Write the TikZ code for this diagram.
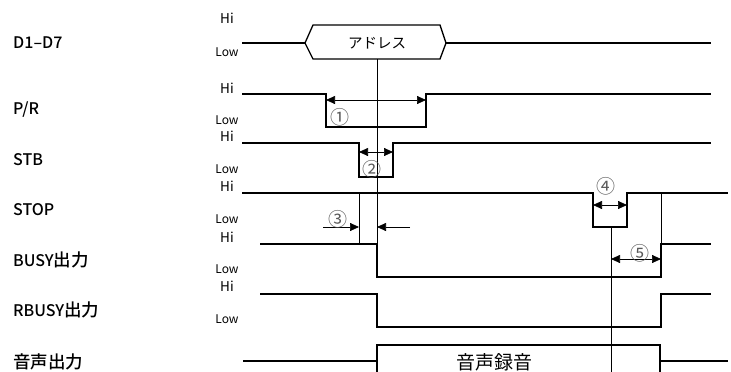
\documentclass[tikz,border=0pt]{standalone}
\usepackage{fontspec}
\setmainfont{Noto Sans CJK JP}
\newfontfamily\labfont{Noto Sans CJK JP Medium}
\usetikzlibrary{arrows.meta}
\newcommand{\jp}[1]{{\fontsize{17.5}{19}\selectfont #1}}
\begin{document}
\begin{tikzpicture}[x=1pt,y=-1pt,
  sig/.style={line width=2.2pt,line join=miter},
  dline/.style={line width=1.8pt},
  thinv/.style={line width=0.7pt},
  boxl/.style={line width=1.3pt},
  dim/.style={line width=0.7pt,-{Triangle[length=9pt,width=8pt]}},
  dimb/.style={line width=0.7pt,{Triangle[length=9pt,width=8pt]}-{Triangle[length=9pt,width=8pt]}},
  lab/.style={anchor=west,inner sep=0pt,font=\labfont\fontsize{16}{18}\selectfont},
  hi/.style={inner sep=0pt,font=\fontsize{13.5}{15}\selectfont},
  lo/.style={inner sep=0pt,font=\fontsize{12}{13}\selectfont},
  num/.style={inner sep=0pt,text=black!65,font=\fontsize{19}{20}\selectfont}]
\useasboundingbox (0,0) rectangle (731,372);
% signal labels
\node[lab] (lD) at (13,43) {D1–D7};
\node[lab] (lP) at (13,110) {P/R};
\node[lab] (lS) at (13,160) {STB};
\node[lab] (lT) at (13,210) {STOP};
\node[lab] (lB) at (13,260) {BUSY\jp{出力}};
\node[lab] (lR) at (13,310) {RBUSY\jp{出力}};
\node[lab] (lA) at (13,362) {\jp{音声出力}};
% Hi / Low
\node[hi] (h1) at (227,18) {Hi};   \node[lo] (o1) at (227,52) {Low};
\node[hi] (h2) at (227,88) {Hi};   \node[lo] (o2) at (227,120) {Low};
\node[hi] (h3) at (227,136) {Hi};  \node[lo] (o3) at (227,169) {Low};
\node[hi] (h4) at (227,186) {Hi};  \node[lo] (o4) at (227,219) {Low};
\node[hi] (h5) at (227,237) {Hi};  \node[lo] (o5) at (227,269) {Low};
\node[hi] (h6) at (227,286) {Hi};  \node[lo] (o6) at (227,319) {Low};
% D1-D7 bus
\coordinate (dA) at (242,43);
\coordinate (dL) at (305,43);
\coordinate (dR) at (446,43);
\coordinate (dE) at (711,43);
\draw[dline] (dA) -- (dL);
\draw[dline] (dR) -- (dE);
\draw[boxl] (dL) -- (313,25) -- (440,25) -- (dR) -- (440,59) -- (313,59) -- cycle;
\node[inner sep=0pt,font=\fontsize{14.5}{16}\selectfont] (addr) at (377,43) {アドレス};
% P/R
\draw[sig] (242,94) -- (326,94) -- (326,127) -- (426,127) -- (426,94) -- (711,94);
% STB
\draw[sig] (242,143) -- (359,143) -- (359,177) -- (393,177) -- (393,143) -- (711,143);
% STOP
\draw[sig] (242,193) -- (593,193) -- (593,227) -- (627,227) -- (627,193) -- (728,193);
% BUSY
\draw[sig] (260,244) -- (377,244) -- (377,277) -- (661,277) -- (661,244) -- (711,244);
% RBUSY
\draw[sig] (260,294) -- (377,294) -- (377,327) -- (661,327) -- (661,294) -- (711,294);
% audio out
\draw[boxl] (243,361) -- (377,361);
\draw[boxl] (377,372) -- (377,345) -- (660,345) -- (660,372);
\draw[boxl] (660,361) -- (728,361);
\node[inner sep=0pt,font=\fontsize{19}{21}\selectfont] (rec) at (494,362) {音声録音};
% thin guide lines
\coordinate (g1t) at (377,59);
\coordinate (g1b) at (377,244);
\draw[thinv] (g1t) -- (g1b);
\coordinate (g2t) at (359,193);
\coordinate (g2b) at (359,244);
\draw[thinv] (g2t) -- (g2b);
\coordinate (g3t) at (611,227);
\coordinate (g3b) at (611,372);
\draw[thinv] (g3t) -- (g3b);
\coordinate (g4t) at (661,193);
\coordinate (g4b) at (661,244);
\draw[thinv] (g4t) -- (g4b);
% dimension arrows
\coordinate (a1l) at (326,100); \coordinate (a1r) at (426,100);
\draw[dimb] (a1l) -- (a1r);
\node[num] (n1) at (340,117) {①};
\coordinate (a2l) at (359,152); \coordinate (a2r) at (393,152);
\draw[dimb] (a2l) -- (a2r);
\node[num] (n2) at (372,169) {②};
\coordinate (a3s) at (323,227); \coordinate (a3e) at (359,227);
\draw[dim] (a3s) -- (a3e);
\coordinate (a3t) at (410,227); \coordinate (a3f) at (377,227);
\draw[dim] (a3t) -- (a3f);
\node[num] (n3) at (338,219) {③};
\coordinate (a4l) at (593,205); \coordinate (a4r) at (627,205);
\draw[dimb] (a4l) -- (a4r);
\node[num] (n4) at (606,186) {④};
\coordinate (a5l) at (611,259); \coordinate (a5r) at (661,259);
\draw[dimb] (a5l) -- (a5r);
\node[num] (n5) at (640,253) {⑤};
\end{tikzpicture}
\end{document}
